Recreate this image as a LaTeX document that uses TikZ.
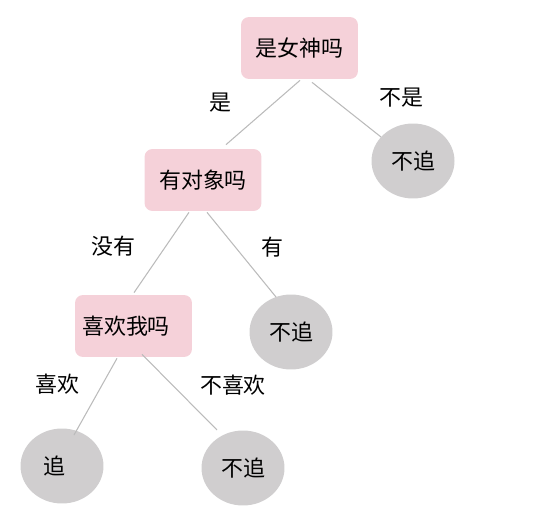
\documentclass[tikz,border=0pt]{standalone}
\usepackage{fontspec}
\newfontfamily\cjk{Noto Sans CJK SC}
\usetikzlibrary{calc,shapes.geometric}
\definecolor{pinkask}{HTML}{F5D1D9}
\definecolor{greyleaf}{HTML}{D0CECF}
\definecolor{greyline}{HTML}{BBBBBB}

\begin{document}
\begin{tikzpicture}[x=0.02cm,y=-0.02cm,font=\cjk\fontsize{12.5}{15}\selectfont,
    ask/.style={rounded corners=0.16cm,fill=pinkask,minimum width=2.34cm,minimum height=1.24cm,inner sep=0pt},
    leaf/.style={ellipse,fill=greyleaf,minimum width=1.66cm,minimum height=1.5cm,inner sep=0pt},
    branch/.style={draw=greyline,line width=0.6pt},
    lab/.style={inner sep=0pt}]
        \useasboundingbox (0,0) rectangle (540,523);
        % questions
        \node[ask] (nvshen) at (299.5,48) {是女神吗};
        \node[ask] (duixiang) at (203,180) {有对象吗};
        \node[ask] (xihuan) at (133.5,326) {\hspace*{-0.3cm}喜欢我吗};
        % answers
        \node[leaf] (buzhui1) at (413,161) {不追};
        \node[leaf] (buzhui2) at (291,332) {不追};
        \node[leaf] (zhui) at (62,466) {\hspace*{-0.32cm}追};
        \node[leaf] (buzhui3) at (243,468) {不追};
        % branch labels
        \node[lab] (lshi) at (220,103) {是};
        \node[lab] (lbushi) at (401,98) {不是};
        \node[lab] (lmeiyou) at (113,246) {没有};
        \node[lab] (lyou) at (272,247) {有};
        \node[lab] (lxihuan) at (57,384) {喜欢};
        \node[lab] (lbuxihuan) at (233,385) {不喜欢};
        % branches
        \draw[branch] ($(nvshen.south)+(0.5,1)$) -- ($(duixiang.north)+(23,-4)$);
        \draw[branch] ($(nvshen.south)+(12.5,3)$) -- ($(buzhui1.center)+(-32,-24)$);
        \draw[branch] ($(duixiang.south)+(-14,1)$) -- ($(xihuan.north)+(0.5,-2)$);
        \draw[branch] ($(duixiang.south)+(4,1)$) -- ($(buzhui2.center)+(-15,-35)$);
        \draw[branch] ($(xihuan.south)+(-16.5,1)$) -- ($(zhui.center)+(12,-31)$);
        \draw[branch] ($(xihuan.south)+(8.5,-3)$) -- ($(buzhui3.center)+(-26,-38)$);
      \end{tikzpicture}
\end{document}
